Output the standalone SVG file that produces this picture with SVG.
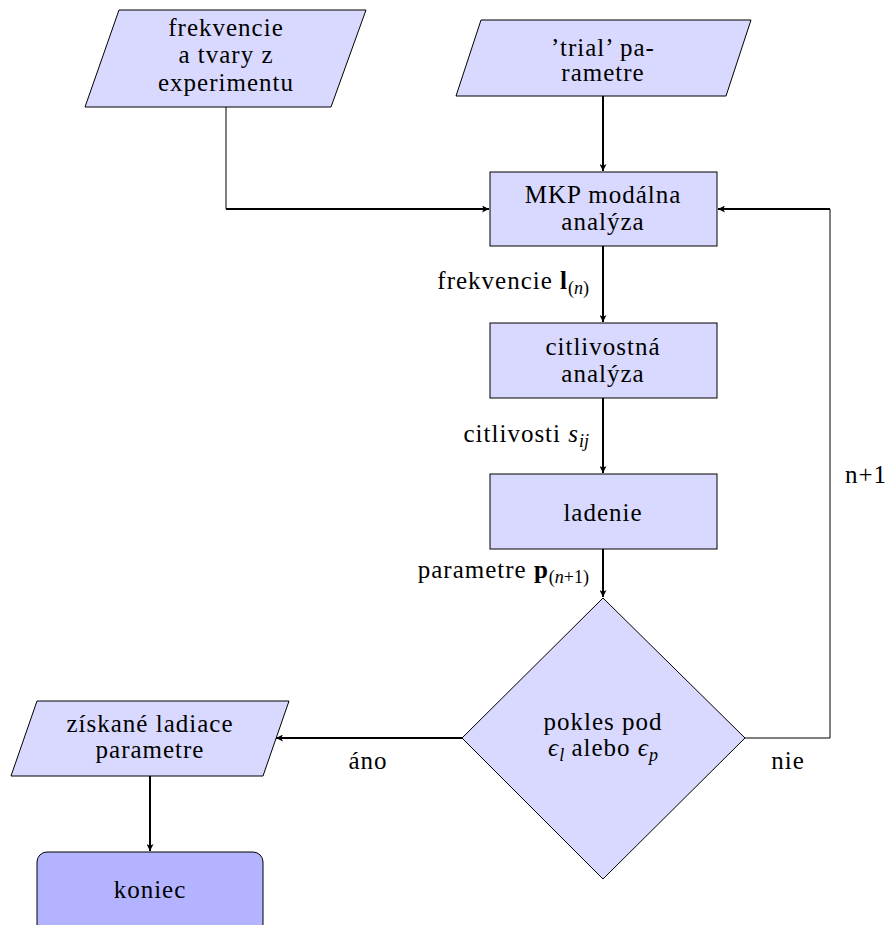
<svg xmlns="http://www.w3.org/2000/svg" width="891" height="925" viewBox="0 0 891 925">
<defs>
<marker id="a" viewBox="0 0 10 10" refX="10" refY="5" markerWidth="7" markerHeight="7" markerUnits="userSpaceOnUse" orient="auto">
<path d="M0,0 L10,5 L0,10 L2.5,5 Z" fill="#000"/>
</marker>
</defs>
<g id="connectors" fill="none" stroke="#000">
<path stroke-width="1" d="M226,107 V209"/>
<path stroke-width="2" d="M226,209 H489" marker-end="url(#a)"/>
<path stroke-width="2" d="M603,96 V171" marker-end="url(#a)"/>
<path stroke-width="2" d="M603,246 V322" marker-end="url(#a)"/>
<path stroke-width="2" d="M603,398 V473" marker-end="url(#a)"/>
<path stroke-width="2" d="M603,549 V597" marker-end="url(#a)"/>
<path stroke-width="2" d="M462,738 H276" marker-end="url(#a)"/>
<path stroke-width="1" d="M745,738 H830 V209"/>
<path stroke-width="2" d="M830,209 H718" marker-end="url(#a)"/>
<path stroke-width="2" d="M150,776 V851" marker-end="url(#a)"/>
</g>
<g id="labels" fill="#000" stroke="none" font-family="Liberation Serif" font-size="25" letter-spacing="1">
<text text-anchor="end" x="589" y="289">frekvencie <tspan font-weight="bold">l</tspan><tspan font-size="18" letter-spacing="0" dy="5">(</tspan><tspan font-size="18" letter-spacing="0" font-style="italic">n</tspan><tspan font-size="18" letter-spacing="0">)</tspan></text>
<text text-anchor="end" x="589" y="442">citlivosti <tspan font-style="italic">s</tspan><tspan font-size="18" letter-spacing="0" font-style="italic" dy="5">ij</tspan></text>
<text text-anchor="end" x="589" y="578">parametre <tspan font-weight="bold">p</tspan><tspan font-size="18" letter-spacing="0" dy="5">(</tspan><tspan font-size="18" letter-spacing="0" font-style="italic">n</tspan><tspan font-size="18" letter-spacing="0">+1)</tspan></text>
<text text-anchor="middle" x="368" y="769">áno</text>
<text text-anchor="middle" x="788" y="769">nie</text>
<text text-anchor="middle" x="866" y="483">n+1</text>
</g>
<g font-family="Liberation Serif" font-size="25" letter-spacing="1" text-anchor="middle">
<g id="exp">
<polygon fill="#d9d9ff" stroke="#000" points="119,10 366,10 331,107 85,107"/>
<text x="226" y="36">frekvencie</text>
<text x="226" y="63">a tvary z</text>
<text x="226" y="91">experimentu</text>
</g>
<g id="trial">
<polygon fill="#d9d9ff" stroke="#000" points="481,20 751,20 726,96 456,96"/>
<text x="603" y="56">’trial’ pa-</text>
<text x="603" y="81">rametre</text>
</g>
<g id="mkp">
<rect fill="#d9d9ff" stroke="#000" x="490" y="172" width="227" height="74"/>
<text x="603" y="203">MKP modálna</text>
<text x="603" y="230">analýza</text>
</g>
<g id="citl">
<rect fill="#d9d9ff" stroke="#000" x="490" y="323" width="227" height="75"/>
<text x="603" y="355">citlivostná</text>
<text x="603" y="382">analýza</text>
</g>
<g id="ladenie">
<rect fill="#d9d9ff" stroke="#000" x="490" y="474" width="227" height="75"/>
<text x="603" y="521">ladenie</text>
</g>
<g id="decision">
<polygon fill="#d9d9ff" stroke="#000" points="603,598 745,738 603,879 462,738"/>
<text x="603" y="730">pokles pod</text>
<text x="603" y="756"><tspan font-style="italic">ϵ</tspan><tspan font-size="18" letter-spacing="0" font-style="italic" dy="5">l</tspan><tspan dy="-5"> alebo </tspan><tspan font-style="italic">ϵ</tspan><tspan font-size="18" letter-spacing="0" font-style="italic" dy="5">p</tspan></text>
</g>
<g id="result">
<polygon fill="#d9d9ff" stroke="#000" points="37,701 289,701 263,776 11,776"/>
<text x="150" y="732">získané ladiace</text>
<text x="150" y="758">parametre</text>
</g>
<g id="koniec">
<rect fill="#b3b3ff" stroke="#000" x="37" y="852" width="226" height="82" rx="10" ry="10"/>
<text x="150" y="898">koniec</text>
</g>
</g>
</svg>
